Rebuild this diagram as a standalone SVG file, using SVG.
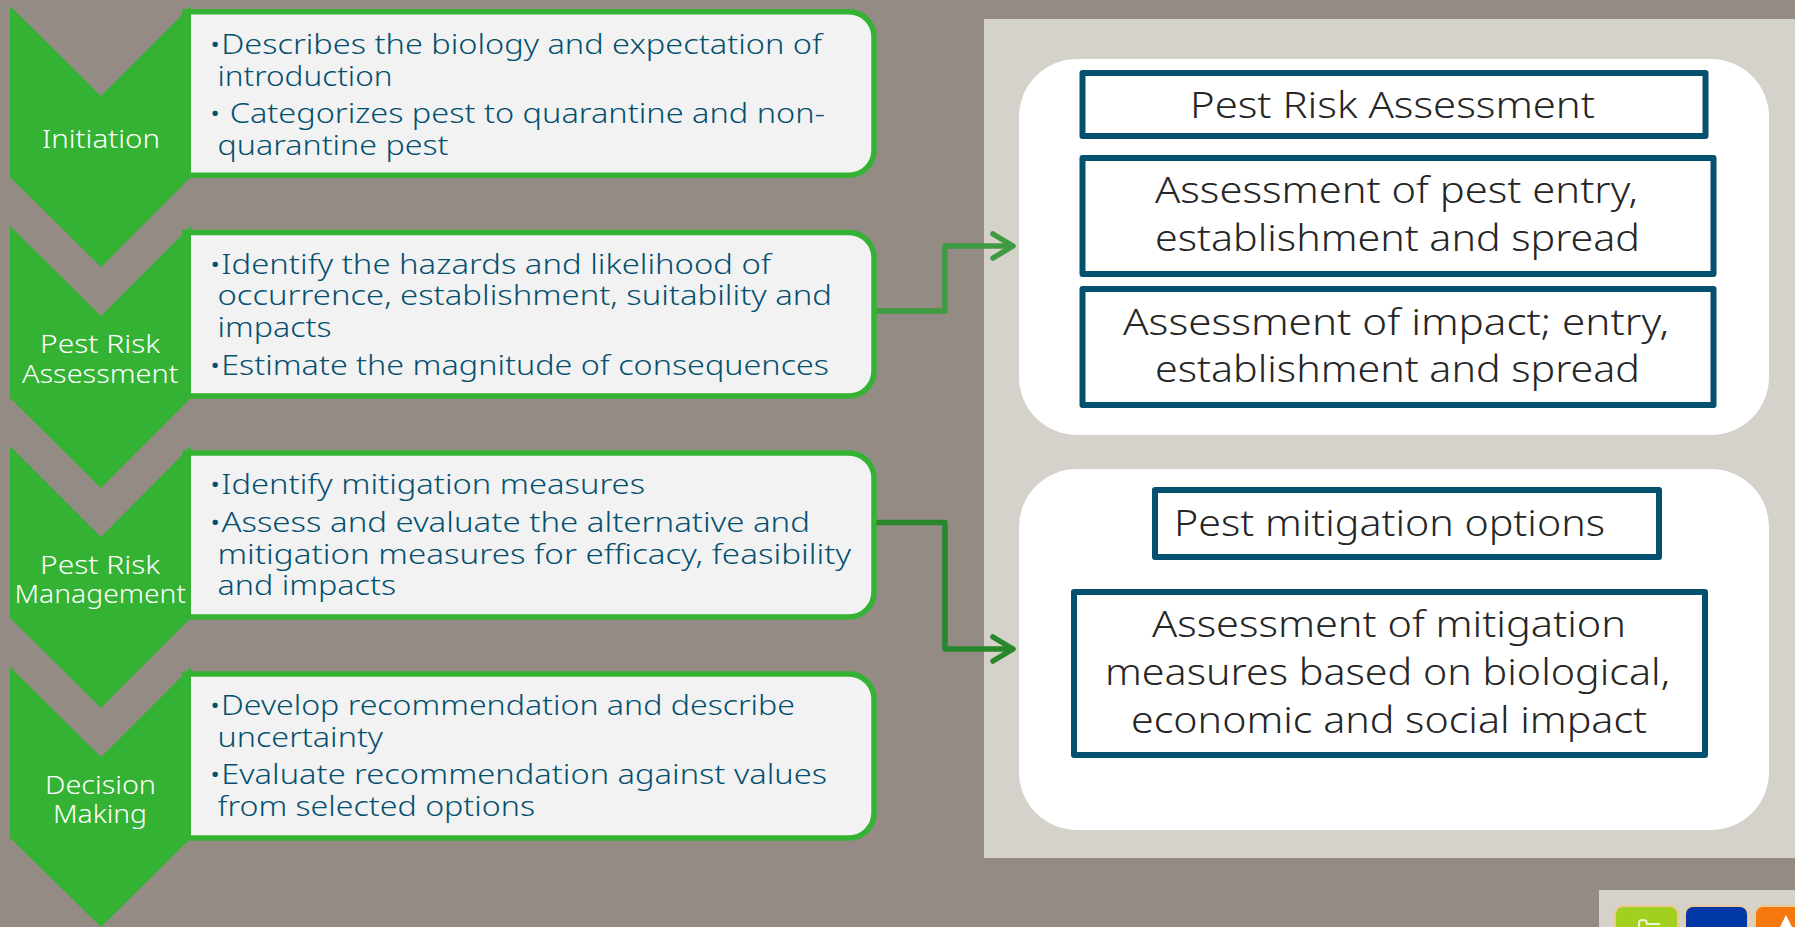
<svg xmlns="http://www.w3.org/2000/svg" width="1795" height="927" viewBox="0 0 1795 927">
<style>
text{font-family:"Noto Sans","Liberation Sans",sans-serif;font-weight:300}
.chev{fill:#34b233}
.card{fill:#f2f2f2;stroke:#34b233;stroke-width:5.500}
.b{fill:#04506f;font-size:27px}
.c{fill:#fff;font-size:26px}
.panel{fill:#fff}
.box{fill:#fff;stroke:#04506f;stroke-width:6;stroke-linejoin:round}
.t{fill:#262626;font-size:36px}
.conn{fill:none;stroke-width:5.500;stroke-linejoin:round;stroke-linecap:round}
</style>
<rect width="1795" height="927" fill="#948b85"/>
<rect id="right-bg" x="984" y="19" width="811" height="839" fill="#d4d2cb"/>
<g id="corner-toolbar">
<rect x="1599" y="890" width="196" height="37" fill="#d4d2cb"/>
<rect x="1615" y="906" width="63" height="30" rx="8" fill="#a2d021" stroke="#ecc999" stroke-width="2"/>
<rect x="1685" y="906" width="63" height="30" rx="8" fill="#0038a8" stroke="#ecc999" stroke-width="2"/>
<rect x="1755" y="906" width="50" height="30" rx="8" fill="#f5780f" stroke="#ecc999" stroke-width="2"/>
<path d="M1639 927V923Q1639 920 1643 920Q1647 920 1647 924H1660" fill="none" stroke="#f0f5d0" stroke-width="2"/>
<path d="M1780 927L1786 915L1792 927Z" fill="#fff"/>
</g>
<g id="connectors">
<path class="conn" stroke="#3f9b3f" d="M876 311H945V246H1012"/>
<path class="conn" stroke="#3f9b3f" d="M993 234L1013 246L993 258"/>
<path class="conn" stroke="#28872b" d="M876 522.500H945V649H1012"/>
<path class="conn" stroke="#28872b" d="M993 637L1013 649L993 661"/>
</g>
<g id="step-initiation">
<path class="card" d="M185 11.800H849A25 25 0 0 1 874 36.800V150.200A25 25 0 0 1 849 175.200H185Z"/>
<path class="chev" d="M10 6L101 96L191 6V177L101 267L10 177Z"/>
<text class="c" x="42" y="148" textLength="118" lengthAdjust="spacingAndGlyphs">Initiation</text>
<text class="b" x="209" y="54" textLength="613" lengthAdjust="spacingAndGlyphs">•Describes the biology and expectation of</text>
<text class="b" x="217.500" y="86" textLength="175" lengthAdjust="spacingAndGlyphs">introduction</text>
<text class="b" x="209" y="123" textLength="616" lengthAdjust="spacingAndGlyphs" xml:space="preserve">• Categorizes pest to quarantine and non-</text>
<text class="b" x="217.500" y="155" textLength="231" lengthAdjust="spacingAndGlyphs">quarantine pest</text>
</g>
<g id="step-assessment">
<path class="card" d="M185 232.500H849A25 25 0 0 1 874 257.500V371A25 25 0 0 1 849 396H185Z"/>
<path class="chev" d="M10 226L101 316L191 226V398L101 488L10 398Z"/>
<text class="c" x="40" y="353" textLength="120" lengthAdjust="spacingAndGlyphs">Pest Risk</text>
<text class="c" x="22" y="383" textLength="156.500" lengthAdjust="spacingAndGlyphs">Assessment</text>
<text class="b" x="209" y="274" textLength="562" lengthAdjust="spacingAndGlyphs">•Identify the hazards and likelihood of</text>
<text class="b" x="217.500" y="305" textLength="614.500" lengthAdjust="spacingAndGlyphs">occurrence, establishment, suitability and</text>
<text class="b" x="217.500" y="337" textLength="114" lengthAdjust="spacingAndGlyphs">impacts</text>
<text class="b" x="209" y="375" textLength="620" lengthAdjust="spacingAndGlyphs">•Estimate the magnitude of consequences</text>
</g>
<g id="step-management">
<path class="card" d="M185 453H849A25 25 0 0 1 874 478V592A25 25 0 0 1 849 617H185Z"/>
<path class="chev" d="M10 446L101 537L191 446V618L101 708L10 618Z"/>
<text class="c" x="40" y="574" textLength="120" lengthAdjust="spacingAndGlyphs">Pest Risk</text>
<text class="c" x="14.500" y="603" textLength="171.500" lengthAdjust="spacingAndGlyphs">Management</text>
<text class="b" x="209" y="494" textLength="436" lengthAdjust="spacingAndGlyphs">•Identify mitigation measures</text>
<text class="b" x="209" y="532" textLength="601" lengthAdjust="spacingAndGlyphs">•Assess and evaluate the alternative and</text>
<text class="b" x="217.500" y="564" textLength="633.500" lengthAdjust="spacingAndGlyphs">mitigation measures for efficacy, feasibility</text>
<text class="b" x="217.500" y="595" textLength="178.500" lengthAdjust="spacingAndGlyphs">and impacts</text>
</g>
<g id="step-decision">
<path class="card" d="M185 674H849A25 25 0 0 1 874 699V813A25 25 0 0 1 849 838H185Z"/>
<path class="chev" d="M10 667L101 757L191 667V838L101 927L10 838Z"/>
<text class="c" x="45" y="794" textLength="111" lengthAdjust="spacingAndGlyphs">Decision</text>
<text class="c" x="53" y="823" textLength="94" lengthAdjust="spacingAndGlyphs">Making</text>
<text class="b" x="209" y="715" textLength="586" lengthAdjust="spacingAndGlyphs">•Develop recommendation and describe</text>
<text class="b" x="217.500" y="747" textLength="165.500" lengthAdjust="spacingAndGlyphs">uncertainty</text>
<text class="b" x="209" y="784" textLength="618" lengthAdjust="spacingAndGlyphs">•Evaluate recommendation against values</text>
<text class="b" x="217.500" y="816" textLength="317.500" lengthAdjust="spacingAndGlyphs">from selected options</text>
</g>
<g id="panel-assessment">
<rect class="panel" x="1019" y="59" width="750" height="376" rx="58" ry="58"/>
<g id="box-pra">
<rect class="box" x="1082.500" y="73" width="623" height="63"/>
<text class="t" x="1190" y="118" textLength="405" lengthAdjust="spacingAndGlyphs">Pest Risk Assessment</text>
</g>
<g id="box-entry">
<rect class="box" x="1082.500" y="158" width="631" height="116"/>
<text class="t" x="1155" y="203" textLength="483" lengthAdjust="spacingAndGlyphs">Assessment of pest entry,</text>
<text class="t" x="1155" y="251" textLength="485" lengthAdjust="spacingAndGlyphs">establishment and spread</text>
</g>
<g id="box-impact">
<rect class="box" x="1082.500" y="289" width="631" height="116"/>
<text class="t" x="1123" y="335" textLength="546" lengthAdjust="spacingAndGlyphs">Assessment of impact; entry,</text>
<text class="t" x="1155" y="382" textLength="485" lengthAdjust="spacingAndGlyphs">establishment and spread</text>
</g>
</g>
<g id="panel-mitigation">
<rect class="panel" x="1019" y="469" width="750" height="361" rx="58" ry="58"/>
<g id="box-options">
<rect class="box" x="1155" y="490" width="504" height="67"/>
<text class="t" x="1174" y="536" textLength="431" lengthAdjust="spacingAndGlyphs">Pest mitigation options</text>
</g>
<g id="box-measures">
<rect class="box" x="1074" y="592" width="631" height="163"/>
<text class="t" x="1152" y="637" textLength="474" lengthAdjust="spacingAndGlyphs">Assessment of mitigation</text>
<text class="t" x="1105" y="685" textLength="565" lengthAdjust="spacingAndGlyphs">measures based on biological,</text>
<text class="t" x="1131" y="733" textLength="516" lengthAdjust="spacingAndGlyphs">economic and social impact</text>
</g>
</g>
</svg>
